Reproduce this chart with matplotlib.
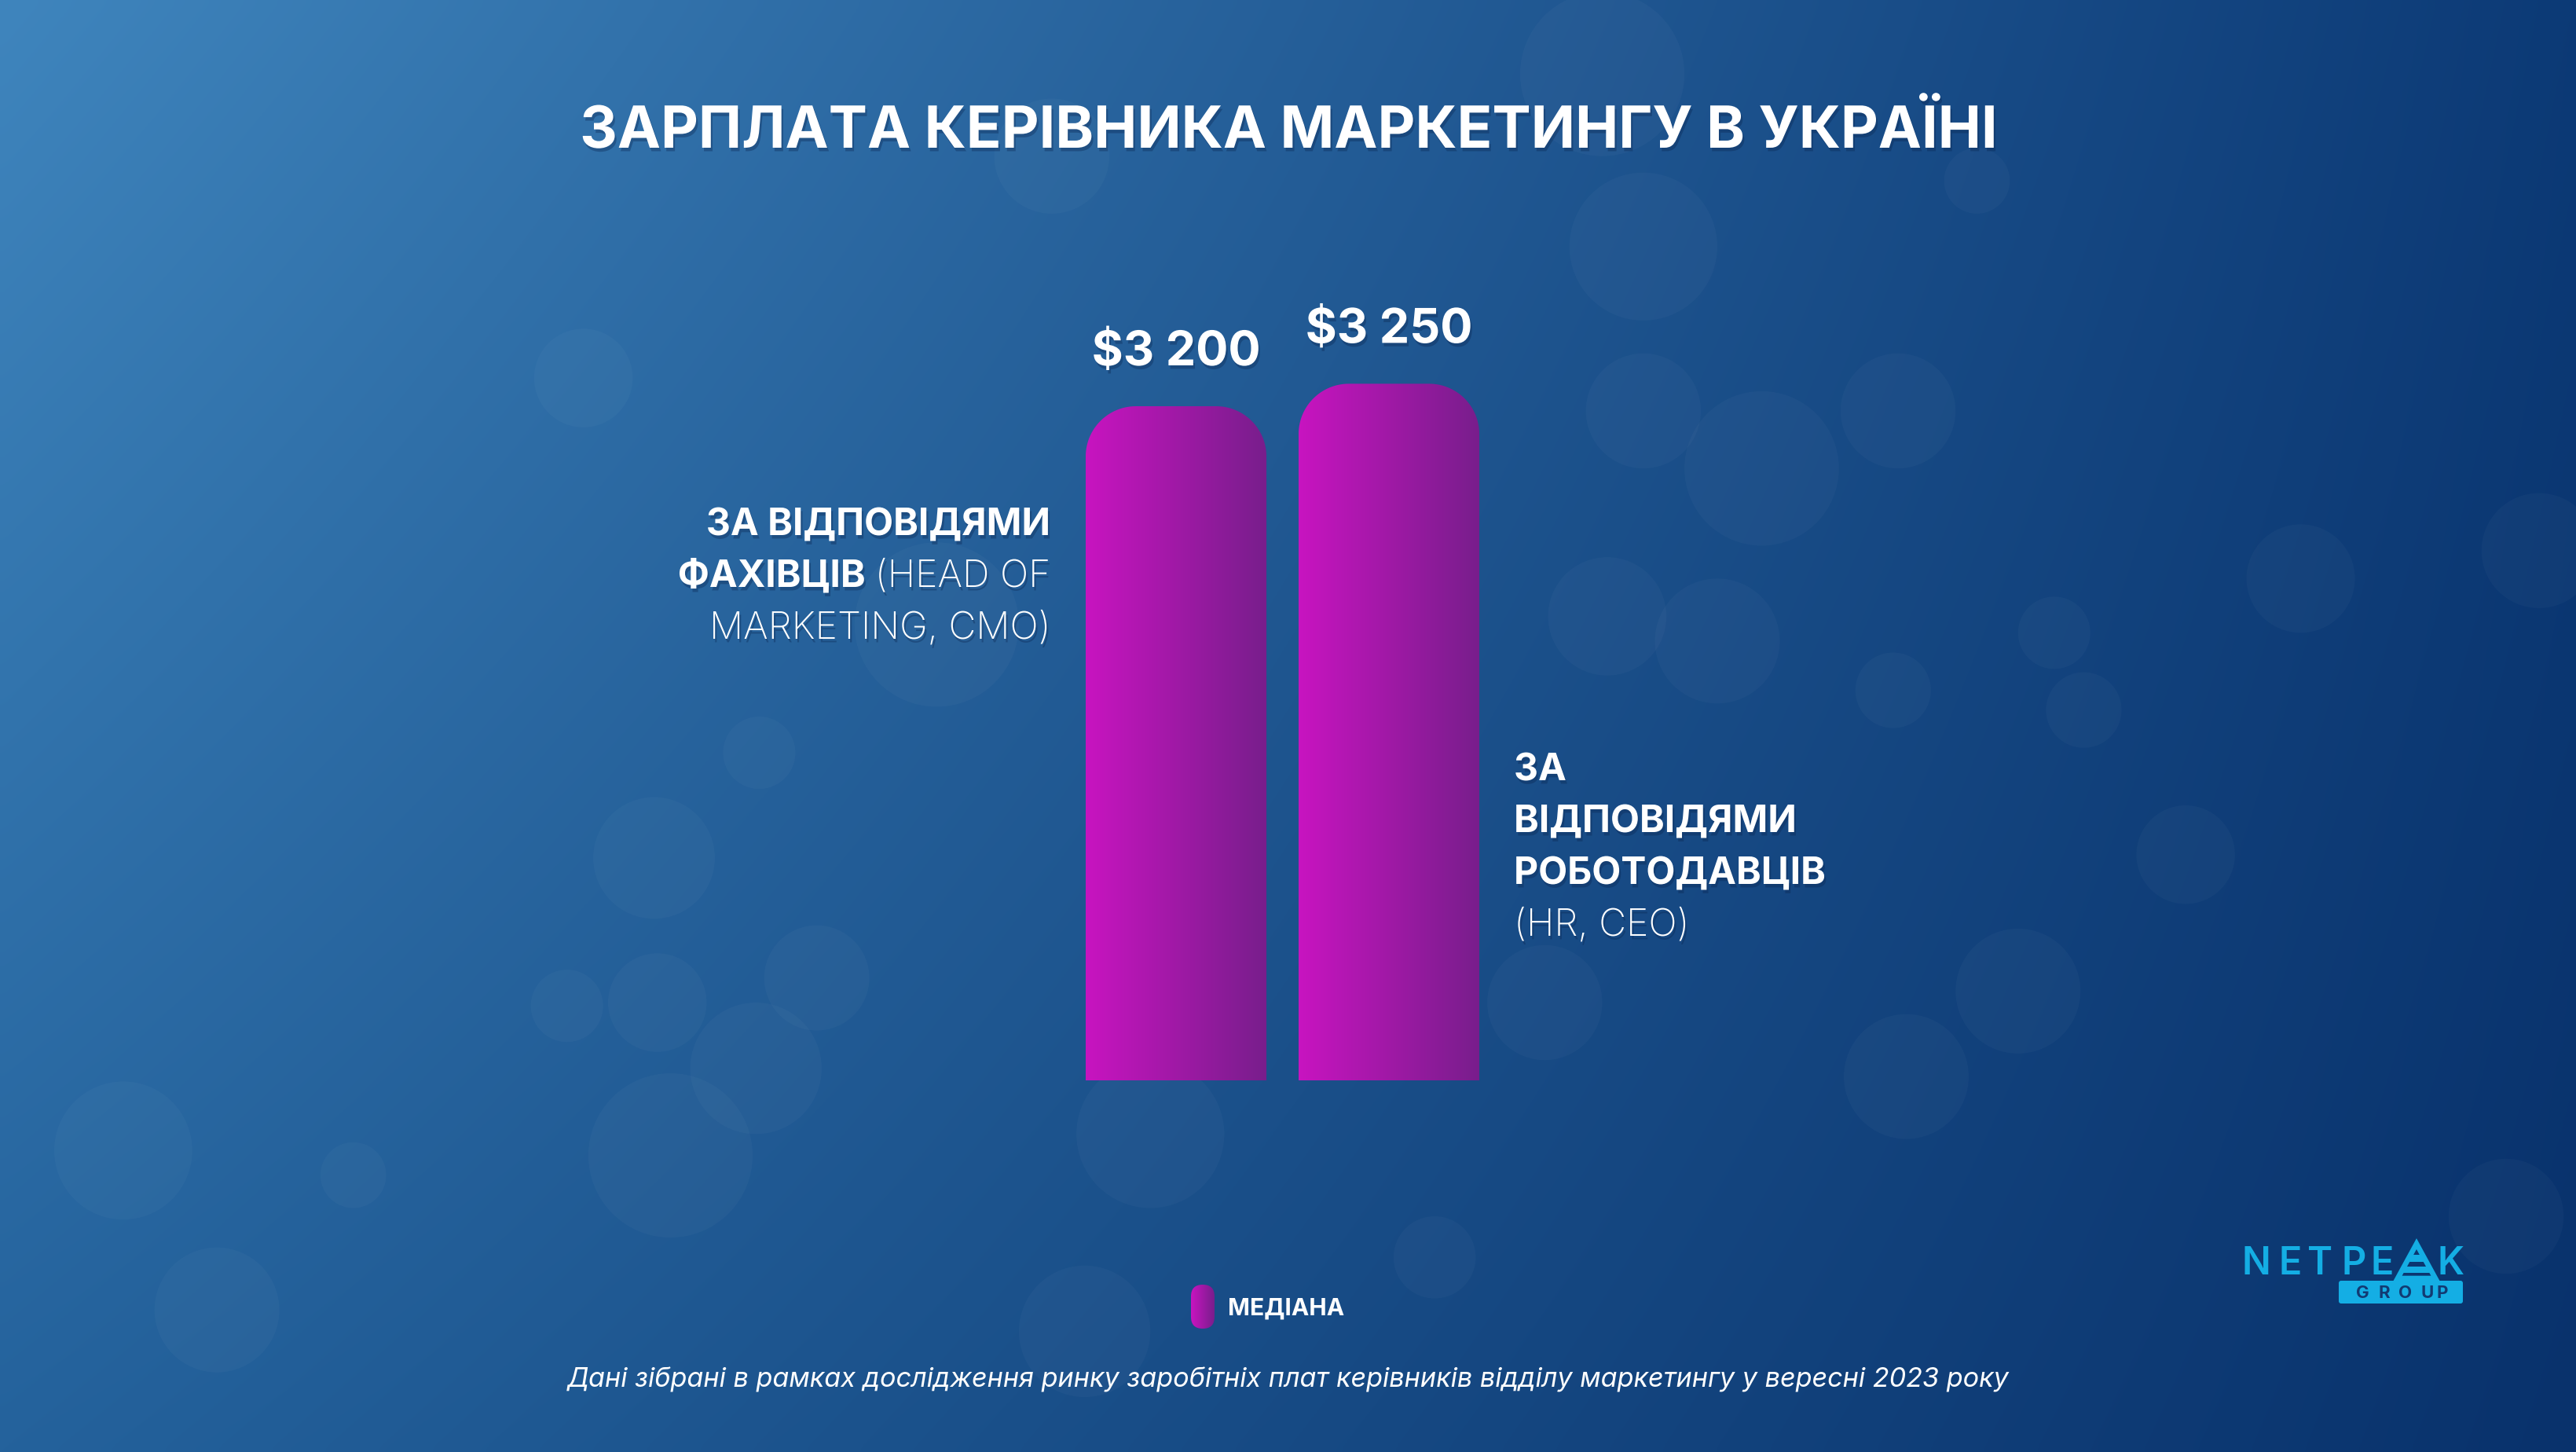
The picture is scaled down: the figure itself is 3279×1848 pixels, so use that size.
import numpy as np
import matplotlib
matplotlib.use("Agg")
import matplotlib.pyplot as plt
from matplotlib.path import Path
from matplotlib.patches import PathPatch, Circle, FancyBboxPatch, Polygon
import matplotlib.patheffects as pe

# ---------------- data ----------------
categories = ["За відповідями фахівців (Head of Marketing, CMO)",
              "За відповідями роботодавців (HR, CEO)"]
values = [3200, 3250]
value_labels = ["$3 200", "$3 250"]
legend_label = "МЕДІАНА"
title = "ЗАРПЛАТА КЕРІВНИКА МАРКЕТИНГУ В УКРАЇНІ"
footnote = "Дані зібрані в рамках дослідження ринку заробітніх плат керівників відділу маркетингу у вересні 2023 року"
left_label_lines = [[("ЗА ВІДПОВІДЯМИ", "bold")],
                    [("ФАХІВЦІВ", "bold"), ("(HEAD OF", "light")],
                    [("MARKETING, CMO)", "light")]]
right_label_lines = [[("ЗА", "bold")],
                     [("ВІДПОВІДЯМИ", "bold")],
                     [("РОБОТОДАВЦІВ", "bold")],
                     [("(HR, CEO)", "light")]]

W, H = 3280, 1848
DPI = 200
FAM = ["Inter", "DejaVu Sans"]
plt.rcParams["font.family"] = FAM

fig = plt.figure(figsize=(W / DPI, H / DPI), dpi=DPI)


def fx(x):
    return x / W


def fy(y):
    return 1 - y / H


# ---------------- background ----------------
bg = fig.add_axes([0, 0, 1, 1], zorder=-10)
bg.set_axis_off()
tl = np.array([63, 133, 189]) / 255
tr = np.array([12, 58, 118]) / 255
bl = np.array([36, 98, 156]) / 255
br = np.array([9, 50, 108]) / 255
u = np.linspace(0, 1, 320)[None, :, None]
v = np.linspace(0, 1, 180)[:, None, None]
img = (tl * (1 - u) * (1 - v) + tr * u * (1 - v) + bl * (1 - u) * v + br * u * v)
bg.imshow(img, extent=[0, W, H, 0], aspect="auto", interpolation="bicubic")
bg.set_xlim(0, W)
bg.set_ylim(H, 0)
circles = [(975, 45, 50), (1000, 150, 45), (1072, 285, 47), (1045, 390, 38), (978, 375, 36),
           (1155, 250, 35), (1400, 352, 33), (1268, 432, 23), (1250, 385, 22), (1152, 420, 23),
           (1228, 603, 38), (1160, 655, 38), (398, 522, 37), (400, 610, 30), (345, 612, 22),
           (408, 703, 50), (460, 650, 40), (497, 595, 32), (462, 458, 22), (132, 797, 38),
           (75, 700, 42), (215, 715, 20), (660, 810, 40), (873, 765, 25), (570, 380, 50),
           (640, 95, 35), (1203, 110, 20), (1000, 250, 35), (1545, 335, 35), (940, 610, 35),
           (1525, 740, 35), (700, 690, 45), (355, 230, 30), (1330, 520, 30)]
s = W / 1568
for cx, cy, r in circles:
    bg.add_patch(Circle((cx * s, cy * s), r * s, facecolor="white", edgecolor="none", alpha=0.028))

# ---------------- chart axes ----------------
ax_left_px = 1497 - 271 * 0.5
ax = fig.add_axes([fx(ax_left_px), fy(1375), 542 / W, (1375 - 288) / H])
ax.set_xlim(-0.5, 1.5)
ymin, ymax = 1700, 1700 + (1375 - 288) / 0.572
ax.set_ylim(ymin, ymax)
ax.set_axis_off()

x = np.arange(len(values))
bars = ax.bar(x, [v_ - ymin for v_ in values], bottom=ymin, width=0.849,
              color="none", edgecolor="none")

grad = np.linspace(0, 1, 256)[None, :, None]
c_left = np.array([200, 20, 192]) / 255
c_right = np.array([120, 30, 140]) / 255
grad_img = c_left * (1 - grad) + c_right * grad

r_px = 64
p0 = ax.transData.transform((0, 0))
px_per_x = ax.transData.transform((1, 0))[0] - p0[0]
px_per_y = ax.transData.transform((0, 1))[1] - p0[1]
rx = r_px / px_per_x
ry = r_px / px_per_y

for b in bars:
    x0, y0 = b.get_x(), b.get_y()
    x1, y1 = x0 + b.get_width(), y0 + b.get_height()
    t1 = np.linspace(np.pi, np.pi / 2, 30)
    t2 = np.linspace(np.pi / 2, 0, 30)
    verts = [(x0, y0)]
    verts += [(x0 + rx + rx * np.cos(t), y1 - ry + ry * np.sin(t)) for t in t1]
    verts += [(x1 - rx + rx * np.cos(t), y1 - ry + ry * np.sin(t)) for t in t2]
    verts += [(x1, y0), (x0, y0)]
    path = Path(verts, closed=True)
    patch = PathPatch(path, transform=ax.transData, facecolor="none", edgecolor="none")
    ax.add_patch(patch)
    im = ax.imshow(grad_img, extent=[x0, x1, y0, y1], aspect="auto", interpolation="bilinear", zorder=2)
    im.set_clip_path(patch)

ax.set_xlim(-0.5, 1.5)
ax.set_ylim(ymin, ymax)

shadow = [pe.SimplePatchShadow(offset=(0.8, -1.6), shadow_rgbFace="#0a2550", alpha=0.35), pe.Normal()]

for xi, v_, lab in zip(x, values, value_labels):
    ax.annotate(lab, (xi, v_), xytext=(0, 52 / DPI * 72), textcoords="offset points",
                ha="center", va="baseline", color="white", fontsize=22, fontweight="bold",
                path_effects=shadow, zorder=5)

# ---------------- titles ----------------
fig.text(0.5, fy(188), title, ha="center", va="baseline", color="white",
         fontsize=26.6, fontweight="bold", path_effects=shadow)

fig.text(0.5, fy(1765), footnote, ha="center", va="baseline", color="white",
         fontsize=12.3, fontstyle="italic", fontweight="normal")

# ---------------- category labels ----------------
fig.canvas.draw()
renderer = fig.canvas.get_renderer()
LS = 17.3
gap_px = 12


def draw_line(segs, x_px, base_px, align):
    cur = x_px
    if align == "right":
        for txt, w in reversed(segs):
            t = fig.text(fx(cur), fy(base_px), txt, ha="right", va="baseline", color="white",
                         fontsize=LS, fontweight=w, path_effects=shadow)
            cur -= t.get_window_extent(renderer).width + gap_px
    else:
        for txt, w in segs:
            t = fig.text(fx(cur), fy(base_px), txt, ha="left", va="baseline", color="white",
                         fontsize=LS, fontweight=w, path_effects=shadow)
            cur += t.get_window_extent(renderer).width + gap_px


for i, segs in enumerate(left_label_lines):
    draw_line(segs, 1337, 681 + 66 * i, "right")
for i, segs in enumerate(right_label_lines):
    draw_line(segs, 1927, 993 + 66 * i, "left")

# ---------------- overlay (legend + logo) in pixel coords ----------------
lg = fig.add_axes([0, 0, 1, 1], zorder=5)
lg.set_axis_off()
lg.set_xlim(0, W)
lg.set_ylim(H, 0)

pill = FancyBboxPatch((1516, 1635), 30, 56, boxstyle="round,pad=0,rounding_size=15",
                      facecolor="none", edgecolor="none")
lg.add_patch(pill)
lim = lg.imshow(grad_img, extent=[1516, 1546, 1691, 1635], aspect="auto", interpolation="bilinear")
lim.set_clip_path(pill)
lg.set_xlim(0, W)
lg.set_ylim(H, 0)
fig.text(fx(1563), fy(1674), legend_label, ha="left", va="baseline", color="white",
         fontsize=10.8, fontweight="bold")

cyan = "#14AEE4"
navy = "#123a72"
for ch, cxp in zip("NETPE", [2872, 2915, 2953, 2996, 3032]):
    fig.text(fx(cxp), fy(1622), ch, ha="center", va="baseline", color=cyan, fontsize=17.5,
             fontweight="semibold")
fig.text(fx(3120), fy(1622), "K", ha="center", va="baseline", color=cyan, fontsize=17.5,
         fontweight="semibold")
lg.add_patch(Polygon([(3076, 1583), (3052, 1627), (3100, 1627)], closed=True,
                     facecolor="none", edgecolor=cyan, linewidth=2.4))
lg.add_patch(Polygon([(3069, 1597), (3083, 1597), (3088, 1606), (3064, 1606)], closed=True,
                     facecolor=cyan, edgecolor="none"))
lg.add_patch(Polygon([(3061, 1612), (3091, 1612), (3095, 1620), (3057, 1620)], closed=True,
                     facecolor=cyan, edgecolor="none"))
lg.add_patch(FancyBboxPatch((2977, 1630), 158, 29, boxstyle="round,pad=0,rounding_size=3",
                            facecolor=cyan, edgecolor="none"))
for ch, cxp in zip("GROUP", [3007, 3035, 3062, 3090, 3109]):
    fig.text(fx(cxp), fy(1652), ch, ha="center", va="baseline", color=navy,
             fontsize=8, fontweight="bold", zorder=6)

fig.savefig("out.png", dpi=DPI)
